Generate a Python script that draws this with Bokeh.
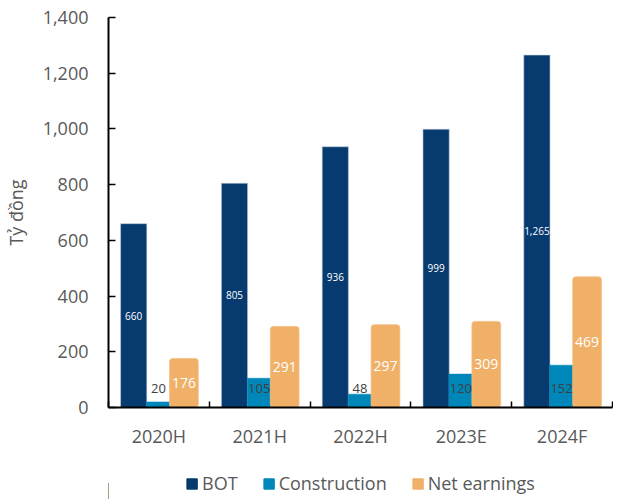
from bokeh.plotting import figure
from bokeh.layouts import column
from bokeh.models import ColumnDataSource, FixedTicker, NumeralTickFormatter, Legend, LegendItem, Range1d, LabelSet
from bokeh.core.properties import value
from bokeh.embed import file_html
from bokeh.resources import INLINE

categories = ["2020H", "2021H", "2022H", "2023E", "2024F"]
bot = [660, 805, 936, 999, 1265]
construction = [20, 105, 48, 120, 152]
net_earnings = [176, 291, 297, 309, 469]
bot_labels = ["660", "805", "936", "999", "1,265"]
cons_labels = ["20", "105", "48", "120", "152"]
net_labels = ["176", "291", "297", "309", "469"]
series_names = ["BOT", "Construction", "Net earnings"]

C_BOT = "#073A6F"
C_CON = "#0087B9"
C_NET = "#F0B068"
FONT = "Open Sans"

centers = [i + 0.5 for i in range(len(categories))]

src = ColumnDataSource(dict(
    xb=[c - 0.25 for c in centers], xc=[c - 0.005 for c in centers], xn=[c + 0.248 for c in centers],
    bot=bot, con=construction, net=net_earnings,
    bot_mid=[v / 2 for v in bot], net_mid=[v / 2 for v in net_earnings], zero=[0] * len(categories),
    bl=bot_labels, cl=cons_labels, nl=net_labels,
))

p = figure(width=613, height=467, output_backend="svg", toolbar_location=None,
           x_range=Range1d(0, len(categories)), y_range=Range1d(0, 1400),
           min_border_left=108, min_border_top=17, min_border_right=1, min_border_bottom=60)
p.outline_line_color = None
p.grid.visible = False
p.background_fill_color = "white"

r1 = p.vbar(x="xb", top="bot", width=0.26, source=src, fill_color=C_BOT, line_color="#BFCBD9", line_width=0.6)
r2 = p.vbar(x="xc", top="con", width=0.235, source=src, fill_color=C_CON, line_color=C_CON, line_width=0.5)
r3 = p.vbar(x="xn", top="net", width=0.285, source=src, fill_color=C_NET, line_color="#F3BF85", line_width=0.8,
            border_radius=3)

p.add_layout(LabelSet(x="xb", y="bot_mid", text="bl", source=src, text_align="center", text_baseline="middle",
                      text_color="white", text_font=value(FONT), text_font_size="10px"))
p.add_layout(LabelSet(x="xc", y="zero", text="cl", source=src, text_align="center", text_baseline="middle",
                      y_offset=19, text_color="#404040", text_font=value(FONT), text_font_size="13px"))
p.add_layout(LabelSet(x="xn", y="net_mid", text="nl", source=src, text_align="center", text_baseline="middle",
                      text_color="white", text_font=value(FONT), text_font_size="14px"))

# y axis
ya = p.yaxis[0]
ya.ticker = FixedTicker(ticks=list(range(0, 1401, 200)), minor_ticks=[])
ya.formatter = NumeralTickFormatter(format="0,0")
ya.axis_line_color = "black"
ya.axis_line_width = 2
ya.major_tick_in = 7
ya.major_tick_out = 0
ya.major_tick_line_color = "black"
ya.major_tick_line_width = 1.5
ya.minor_tick_line_color = None
ya.major_label_text_font = FONT
ya.major_label_text_font_size = "18px"
ya.major_label_text_color = "#595959"
ya.major_label_standoff = 20
ya.axis_label = "Tỷ đồng"
ya.axis_label_text_font = FONT
ya.axis_label_text_font_size = "18px"
ya.axis_label_text_font_style = "normal"
ya.axis_label_text_color = "#595959"
ya.axis_label_standoff = 12

# x axis: labels at centers, tick marks at boundaries
xa = p.xaxis[0]
xa.ticker = FixedTicker(ticks=centers, minor_ticks=list(range(len(categories) + 1)))
xa.major_label_overrides = {c: cat for c, cat in zip(centers, categories)}
xa.axis_line_color = "black"
xa.axis_line_width = 2
xa.major_tick_line_color = None
xa.minor_tick_in = 6
xa.minor_tick_out = 0
xa.minor_tick_line_color = "black"
xa.minor_tick_line_width = 1.5
xa.major_label_text_font = FONT
xa.major_label_text_font_size = "18px"
xa.major_label_text_color = "#595959"
xa.major_label_standoff = 10

# legend strip below the chart (swatch renderers sit outside the visible range)
lg = figure(width=613, height=32, output_backend="svg", toolbar_location=None,
            x_range=Range1d(0, 1), y_range=Range1d(0, 1), x_axis_type=None, y_axis_type=None,
            min_border=0)
lg.outline_line_color = None
lg.grid.visible = False
swatches = [lg.vbar(x=[-10], top=[0.5], width=1, fill_color=c, line_color=c) for c in (C_BOT, C_CON, C_NET)]
legend = Legend(items=[LegendItem(label=n, renderers=[r]) for n, r in zip(series_names, swatches)],
                orientation="horizontal", location="center",
                label_text_font=FONT, label_text_font_size="18px", label_text_color="#595959",
                glyph_width=13, glyph_height=13, spacing=24, label_standoff=4,
                border_line_color=None, background_fill_alpha=0, margin=0, padding=0)
lg.add_layout(legend, "center")

layout = column(p, lg, spacing=0)
open("out.html", "w").write(file_html(layout, INLINE))
